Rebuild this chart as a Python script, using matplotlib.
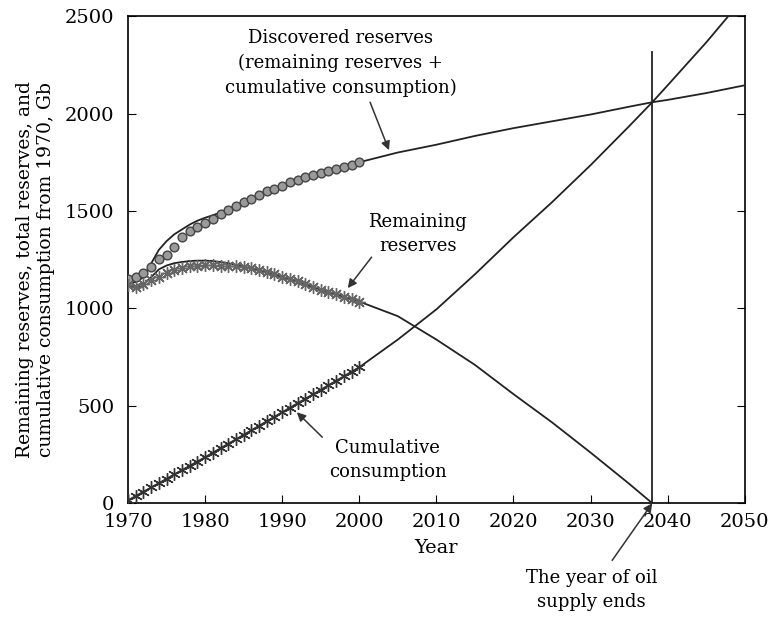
import numpy as np
import matplotlib.pyplot as plt

plt.rcParams['font.family'] = ['DejaVu Serif']

# historical data 1970-2000 (markers)
years_hist = np.arange(1970, 2001)
discovered_obs = [1150, 1160, 1180, 1210, 1255, 1275, 1315, 1365, 1395, 1420,
                  1440, 1460, 1485, 1505, 1525, 1545, 1560, 1580, 1600, 1615,
                  1630, 1648, 1660, 1672, 1684, 1695, 1705, 1714, 1725, 1738, 1750]
remaining_obs = [1120, 1110, 1125, 1145, 1160, 1180, 1195, 1208, 1215, 1220,
                 1222, 1222, 1220, 1218, 1215, 1212, 1205, 1196, 1186, 1174,
                 1162, 1150, 1138, 1124, 1110, 1096, 1085, 1072, 1060, 1048, 1035]
cumulative_obs = [15, 37, 59, 81, 103, 125, 148, 170, 192, 214,
                  236, 259, 282, 305, 328, 351, 374, 397, 420, 444,
                  467, 490, 513, 536, 559, 582, 605, 628, 652, 675, 698]

# model curves (solid lines)
years_model = [1970, 1971, 1972, 1973, 1974, 1975, 1976, 1977, 1978, 1979,
               1980, 1981, 1982, 1983, 1985, 1990, 1995, 2000, 2005, 2010,
               2015, 2020, 2025, 2030, 2035, 2038, 2040, 2045, 2050]
discovered_model = [1130, 1135, 1160, 1230, 1300, 1345, 1380, 1405, 1430, 1450,
                    1465, 1478, 1492, 1508, 1545, 1630, 1695, 1750, 1800, 1840,
                    1885, 1925, 1960, 1995, 2035, 2058, 2070, 2105, 2145]
remaining_model = [1130, 1100, 1120, 1160, 1200, 1220, 1232, 1238, 1243, 1245,
                   1245, 1243, 1238, 1232, 1215, 1162, 1096, 1035, 960, 840,
                   710, 560, 415, 260, 100, 0]
cumulative_model = [15, 37, 59, 81, 103, 125, 148, 170, 192, 214,
                    236, 259, 282, 305, 351, 467, 582, 698, 840, 995,
                    1175, 1365, 1545, 1735, 1935, 2058, 2145, 2365, 2600]

end_year = 2038
end_top = 2315

fig = plt.figure(figsize=(7.71, 6.19), dpi=100)
ax = fig.add_axes([0.166, 0.187, 0.800, 0.787])

ax.plot(years_model, discovered_model, color='#222222', lw=1.3, zorder=3)
ax.plot(years_model[:len(remaining_model)], remaining_model, color='#222222', lw=1.3, zorder=3)
ax.plot(years_model, cumulative_model, color='#222222', lw=1.3, zorder=3)

ax.plot(years_hist, discovered_obs, 'o', ms=6.3, mfc='#9a9a9a', mec='#444444', mew=1.0, zorder=4)
ax.plot(years_hist, remaining_obs, marker=(8, 2, 0), ls='none', ms=9, color='#666666', mew=1.0, zorder=4)
ax.plot(years_hist, cumulative_obs, marker=(6, 2, 0), ls='none', ms=9, color='#333333', mew=1.0, zorder=4)

ax.plot([end_year, end_year], [0, end_top], color='#222222', lw=1.3)

ax.set_xlim(1970, 2050)
ax.set_ylim(0, 2500)
ax.set_xticks(np.arange(1970, 2051, 10))
ax.set_yticks(np.arange(0, 2501, 500))
ax.tick_params(direction='in', length=6, labelsize=14, right=True, top=False)
ax.tick_params(axis='y', pad=10)
ax.tick_params(axis='x', pad=7)
ax.set_xlabel('Year', fontsize=14, labelpad=6)
ax.set_ylabel('Remaining reserves, total reserves, and\ncumulative consumption from 1970, Gb',
              fontsize=13.5, linespacing=1.2)
ax.yaxis.set_label_coords(-0.118, 0.48)
for s in ax.spines.values():
    s.set_linewidth(1.2)

arrow = dict(arrowstyle='-|>', color='#333333', lw=1.1, mutation_scale=13,
             shrinkA=0, shrinkB=0)
txt = dict(fontsize=13, linespacing=1.45, ha='center', va='center')

ax.text(1997.6, 2259, 'Discovered reserves\n(remaining reserves +\ncumulative consumption)', **txt)
ax.annotate('', xy=(2003.85, 1812), xytext=(2001.4, 2058), arrowprops=arrow)

ax.text(2007.6, 1381, 'Remaining\nreserves', **txt)
ax.annotate('', xy=(1998.5, 1104), xytext=(2001.6, 1263), arrowprops=arrow)

ax.text(2003.7, 221, 'Cumulative\nconsumption', **txt)
ax.annotate('', xy=(1991.9, 467), xytext=(1995.2, 339), arrowprops=arrow)

ax.text(2030.1, -447, 'The year of oil\nsupply ends', clip_on=False, **txt)
ax.annotate('', xy=(end_year, 0), xytext=(2032.8, -293), arrowprops=arrow,
            annotation_clip=False)

fig.savefig('out.png', dpi=100)
